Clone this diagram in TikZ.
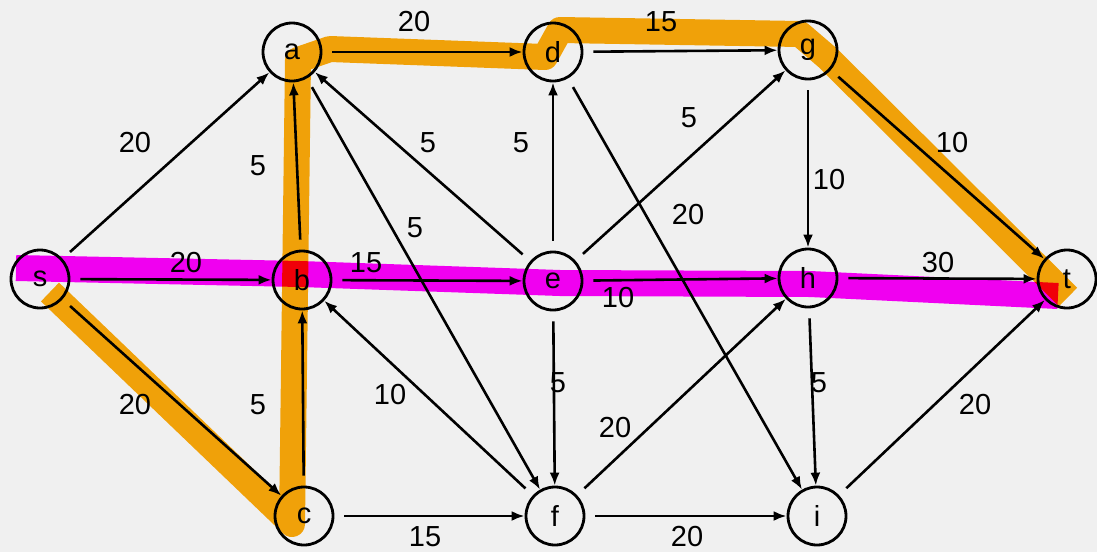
\documentclass[tikz,border=0pt]{standalone}
\usepackage{fontspec}
\setmainfont{Liberation Sans}
\usetikzlibrary{arrows.meta}
\definecolor{bgc}{RGB}{240,240,240}
\definecolor{hlorange}{RGB}{255,172,10}
\definecolor{hlmag}{RGB}{255,0,255}
\begin{document}
\begin{tikzpicture}[x=1pt,y=-1pt,
  vtx/.style={circle,draw=black,line width=2.8pt,minimum size=58pt,inner sep=0pt,font=\fontsize{29}{31}\selectfont},
  edge/.style={line width=2.6pt,-{Latex[length=13pt,width=10pt]},shorten <=10pt},
  lbl/.style={font=\fontsize{29}{31}\selectfont,inner sep=0pt},
  hl/.style={line width=26pt,line join=round,line cap=butt}]
\fill[bgc] (0,0) rectangle (1097,552);
\useasboundingbox (0,0) rectangle (1097,552);
% highlighter strokes
\begin{scope}[blend mode=multiply]
\draw[hl,hlorange] (50,292) -- (292,524) -- (298,60) -- (330,49) -- (545,57) -- (560,30) -- (800,34) -- (828,58) -- (1068,297);
\draw[hl,hlmag] (16,268) -- (300,274) -- (560,283) -- (810,284) -- (1058,296);
\end{scope}
% vertices
\node[vtx] (s) at (40,279) {s};
\node[vtx] (a) at (292,52) {a};
\node[vtx] (b) at (302,280) {b};
\node[vtx] (c) at (304,516) {c};
\node[vtx] (d) at (553,52) {d};
\node[vtx] (e) at (553,281) {e};
\node[vtx] (f) at (555,516) {f};
\node[vtx] (g) at (808,50) {g};
\node[vtx] (h) at (808,278) {h};
\node[vtx] (i) at (817,516) {i};
\node[vtx] (t) at (1067,279) {t};
% edges
\draw[edge] (s) -- (a);
\draw[edge] (s) -- (b);
\draw[edge] (s) -- (c);
\draw[edge] (b) -- (a);
\draw[edge] (c) -- (b);
\draw[edge] (a) -- (d);
\draw[edge] (e) -- (a);
\draw[edge] (a) -- (f);
\draw[edge] (e) -- (d);
\draw[edge] (e) -- (g);
\draw[edge] (d) -- (i);
\draw[edge] (d) -- (g);
\draw[edge] (g) -- (h);
\draw[edge] (g) -- (t);
\draw[edge] (b) -- (e);
\draw[edge] (e) -- (h);
\draw[edge] (h) -- (t);
\draw[edge] (e) -- (f);
\draw[edge] (f) -- (h);
\draw[edge] (h) -- (i);
\draw[edge] (i) -- (t);
\draw[edge] (c) -- (f);
\draw[edge] (f) -- (i);
\draw[edge] (f) -- (b);
% labels
\node[lbl] (l1) at (135,143) {20};
\node[lbl] (l2) at (186,263) {20};
\node[lbl] (l3) at (135,405) {20};
\node[lbl] (l4) at (258,166) {5};
\node[lbl] (l5) at (258,405) {5};
\node[lbl] (l6) at (414,22) {20};
\node[lbl] (l7) at (428,143) {5};
\node[lbl] (l8) at (415,228) {5};
\node[lbl] (l9) at (521,143) {5};
\node[lbl] (l10) at (689,118) {5};
\node[lbl] (l11) at (688,215) {20};
\node[lbl] (l12) at (661,22) {15};
\node[lbl] (l13) at (829,180) {10};
\node[lbl] (l14) at (952,143) {10};
\node[lbl] (l15) at (366,263) {15};
\node[lbl] (l16) at (618,298) {10};
\node[lbl] (l17) at (938,263) {30};
\node[lbl] (l18) at (558,383) {5};
\node[lbl] (l19) at (615,428) {20};
\node[lbl] (l20) at (819,383) {5};
\node[lbl] (l21) at (975,405) {20};
\node[lbl] (l22) at (425,537) {15};
\node[lbl] (l23) at (687,537) {20};
\node[lbl] (l24) at (390,395) {10};
\end{tikzpicture}
\end{document}
